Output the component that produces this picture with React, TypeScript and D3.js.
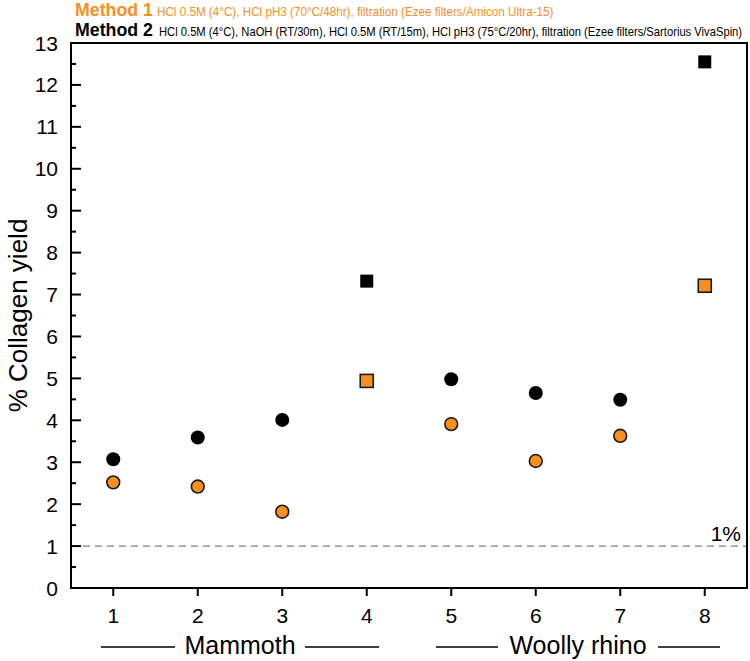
import React, { useLayoutEffect, useRef } from "react";
import * as d3 from "d3";

const categories = [1, 2, 3, 4, 5, 6, 7, 8];
const method1Values = [2.52, 2.42, 1.82, 4.94, 3.91, 3.03, 3.63, 7.21];
const method2Values = [3.07, 3.59, 4.01, 7.32, 4.98, 4.65, 4.49, 12.55];
const squareCategories = [4, 8];
const yTicks = d3.range(0, 14);
const yMinorTicks = d3.range(0.5, 13, 1);
const groups = [
  { label: "Mammoth", center: 2.5 },
  { label: "Woolly rhino", center: 6.5 },
];
const method1Title = "Method 1";
const method1Text = "HCl 0.5M (4°C), HCl pH3 (70°C/48hr), filtration (Ezee filters/Amicon Ultra-15)";
const method2Title = "Method 2";
const method2Text = "HCl 0.5M (4°C), NaOH (RT/30m), HCl 0.5M (RT/15m), HCl pH3 (75°C/20hr), filtration (Ezee filters/Sartorius VivaSpin)";

const W = 750;
const H = 661;
const M = { left: 71, right: 747, top: 43, bottom: 588 };
const ORANGE = "#F7901E";
const FONT = "'Liberation Sans', Arial, sans-serif";

function FitText(props: {
  x: number;
  y: number;
  width: number;
  fontSize: number;
  fill: string;
  bold?: boolean;
  children: string;
}) {
  const ref = useRef<SVGTextElement>(null);
  useLayoutEffect(() => {
    const el = ref.current;
    if (!el) return;
    const w = el.getComputedTextLength();
    const s = w > 0 ? props.width / w : 1;
    el.setAttribute("transform", `translate(${props.x},${props.y}) scale(${s},1)`);
  }, [props.x, props.y, props.width, props.children]);
  return (
    <text
      ref={ref}
      transform={`translate(${props.x},${props.y})`}
      fontSize={props.fontSize}
      fontWeight={props.bold ? "bold" : "normal"}
      fill={props.fill}
    >
      {props.children}
    </text>
  );
}

export default function App() {
  const x = d3.scaleLinear().domain([0.5, 8.5]).range([M.left, M.right]);
  const y = d3.scaleLinear().domain([0, 13]).range([M.bottom, M.top]);

  const r = 7;
  const sq = 13;

  const renderMarker = (cat: number, v: number, fill: string, stroke: string, key: string) => {
    if (squareCategories.includes(cat)) {
      return (
        <rect
          key={key}
          x={x(cat) - sq / 2}
          y={y(v) - sq / 2}
          width={sq}
          height={sq}
          fill={fill}
          stroke={stroke}
          strokeWidth={stroke === "none" ? 0 : 1.6}
        />
      );
    }
    return (
      <circle
        key={key}
        cx={x(cat)}
        cy={y(v)}
        r={stroke === "none" ? r : r - 0.6}
        fill={fill}
        stroke={stroke}
        strokeWidth={stroke === "none" ? 0 : 1.6}
      />
    );
  };

  return (
    <svg
      width={W}
      height={H}
      style={{ position: "absolute", left: 0, top: 0, background: "#fff" }}
      fontFamily={FONT}
    >
      {/* legend */}
      <FitText x={75} y={16} width={78} fontSize={17.5} bold fill={ORANGE}>
        {method1Title}
      </FitText>
      <FitText x={157} y={16} width={397} fontSize={13} fill={ORANGE}>
        {method1Text}
      </FitText>
      <FitText x={75} y={36} width={78} fontSize={17.5} bold fill="#000">
        {method2Title}
      </FitText>
      <FitText x={159} y={36} width={584} fontSize={13} fill="#000">
        {method2Text}
      </FitText>

      {/* dashed 1% line */}
      <line x1={M.left} x2={M.right} y1={y(1)} y2={y(1)} stroke="#808080" strokeWidth={1.2} strokeDasharray="7,5" />
      <text x={741} y={y(1) - 5} fontSize={21} textAnchor="end" fill="#000">
        1%
      </text>

      {/* y ticks */}
      {yTicks.map((t) => (
        <g key={"yt" + t}>
          <line x1={M.left} x2={M.left + 10} y1={y(t)} y2={y(t)} stroke="#000" strokeWidth={2} />
          <text x={58} y={y(t)} dy="0.36em" fontSize={21} textAnchor="end" fill="#000">
            {t}
          </text>
        </g>
      ))}
      {yMinorTicks.map((t) => (
        <line key={"ym" + t} x1={M.left} x2={M.left + 5} y1={y(t)} y2={y(t)} stroke="#000" strokeWidth={2} />
      ))}

      {/* x ticks */}
      {categories.map((c) => (
        <g key={"xt" + c}>
          <line x1={x(c)} x2={x(c)} y1={M.bottom} y2={M.bottom + 8} stroke="#000" strokeWidth={2} />
          <text x={x(c)} y={623} fontSize={21} textAnchor="middle" fill="#000">
            {c}
          </text>
        </g>
      ))}

      {/* frame */}
      <rect
        x={M.left}
        y={M.top}
        width={M.right - M.left}
        height={M.bottom - M.top}
        fill="none"
        stroke="#000"
        strokeWidth={2}
      />

      {/* y title */}
      <text
        transform={`translate(27, ${(M.top + M.bottom) / 2}) rotate(-90)`}
        fontSize={26}
        textAnchor="middle"
        fill="#000"
      >
        % Collagen yield
      </text>

      {/* group labels */}
      {groups.map((g, i) => {
        const cx = x(g.center);
        const half = i === 0 ? 65 : 80;
        const lineLen = i === 0 ? 74 : 62;
        return (
          <g key={g.label}>
            <line x1={cx - half - lineLen} x2={cx - half} y1={647} y2={647} stroke="#000" strokeWidth={1.5} />
            <line x1={cx + half} x2={cx + half + lineLen} y1={647} y2={647} stroke="#000" strokeWidth={1.5} />
            <text x={cx} y={654} fontSize={25} textAnchor="middle" fill="#000">
              {g.label}
            </text>
          </g>
        );
      })}

      {/* markers */}
      {categories.map((c, i) => renderMarker(c, method2Values[i], "#000", "none", "m2" + c))}
      {categories.map((c, i) => renderMarker(c, method1Values[i], ORANGE, "#1a1a1a", "m1" + c))}
    </svg>
  );
}
